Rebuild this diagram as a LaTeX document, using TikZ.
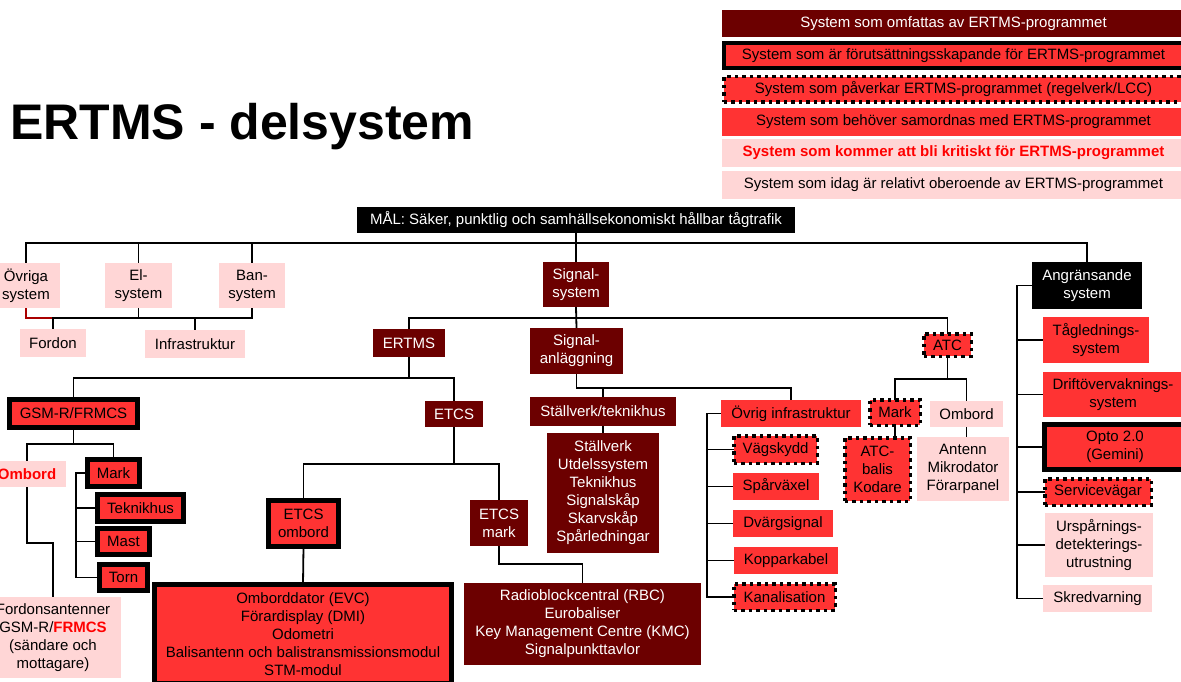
\documentclass[tikz,border=0pt]{standalone}
\usepackage{fontspec}
\setmainfont{Liberation Sans}
\definecolor{dkred}{RGB}{108,0,0}
\definecolor{myred}{RGB}{255,51,51}
\definecolor{mypink}{RGB}{255,214,214}
\definecolor{txtred}{RGB}{255,0,0}
\definecolor{lnred}{RGB}{170,0,0}
\pgfdeclarelayer{bg}
\pgfdeclarelayer{paper}
\pgfsetlayers{paper,bg,main}
\begin{document}
\begin{tikzpicture}[x=1pt,y=-1pt,
 box/.style={inner sep=0pt, outer sep=0pt, align=center, font=\fontsize{15}{18}\selectfont},
 dk/.style={box, fill=dkred, text=white},
 rd/.style={box, fill=myred, text=black},
 pk/.style={box, fill=mypink, text=black},
 bk/.style={box, fill=black, text=white},
 thk/.style={rd, draw=black, line width=5pt},
 dot/.style={rd, draw=black, line width=3.5pt, dash pattern=on 3.5pt off 4pt},
 sz/.style 2 args={minimum width=#1, minimum height=#2},
 conn/.style={draw=black, line width=1.8pt},
]
\begin{pgfonlayer}{paper}
\fill[white] (0,0) rectangle (1181,682);
\end{pgfonlayer}
\useasboundingbox (0,0) rectangle (1181,682);

% legend
\node[dk, sz={463}{27}] (l1) at (953.5,23.5) {System som omfattas av ERTMS-programmet};
\node[thk, line width=4pt, sz={459}{25}] (l2) at (953.5,55.5) {System som är förutsättningsskapande för ERTMS-programmet};
\node[dot, sz={459.5}{25.5}] (l3) at (953.5,89.5) {System som påverkar ERTMS-programmet (regelverk/LCC)};
\node[rd, sz={463}{28}] (l4) at (953.5,122) {System som behöver samordnas med ERTMS-programmet};
\node[pk, sz={463}{28}, text=txtred, font=\fontsize{15}{18}\selectfont\bfseries] (l5) at (953.5,153) {System som kommer att bli kritiskt för ERTMS-programmet};
\node[pk, sz={463}{28}] (l6) at (953.5,185) {System som idag är relativt oberoende av ERTMS-programmet};

% title
\node[anchor=base west, inner sep=0pt, font=\fontsize{50}{60}\selectfont\bfseries] (title) at (10,140) {ERTMS - delsystem};

% top
\node[bk, sz={438}{26}] (mal) at (576,220) {MÅL: Säker, punktlig och samhällsekonomiskt hållbar tågtrafik};

\node[pk, sz={68}{45}] (ovr) at (26,285.5) {Övriga\\system};
\node[pk, sz={67}{45}] (el) at (138.5,285.5) {El-\\system};
\node[pk, sz={66}{45}] (ban) at (252,285.5) {Ban-\\system};
\node[pk, sz={66}{28}] (ford) at (53,343) {Fordon};
\node[pk, sz={100}{28}] (infra) at (195,344) {Infrastruktur};

\node[dk, sz={66}{45}] (sig) at (576,284.5) {Signal-\\system};
\node[dk, sz={72}{28}] (ertms) at (409,343) {ERTMS};
\node[dk, sz={93}{46}] (sanl) at (576.5,351) {Signal-\\anläggning};
\node[dot, sz={47.5}{22.5}] (atc) at (947.5,345) {ATC};
\node[bk, sz={110}{47}] (ang) at (1087,285.5) {Angränsande\\system};

% GSM-R
\node[thk, sz={128}{28}] (gsm) at (73.5,413.5) {GSM-R/FRMCS};
\node[pk, sz={78}{26}, text=txtred, font=\fontsize{15}{18}\selectfont\bfseries] (ombg) at (27,474) {Ombord};
\node[thk, sz={52}{27}] (markg) at (113.5,473) {Mark};
\node[thk, sz={86}{27}] (tek) at (140.5,508) {Teknikhus};
\node[thk, sz={52}{26}] (mast) at (123.5,541.5) {Mast};
\node[thk, sz={48}{26}] (torn) at (123.5,577.5) {Torn};
\node[pk, sz={136}{81}] (fant) at (53,637.5) {Fordonsantenner\\GSM-R/\textcolor{txtred}{\bfseries FRMCS}\\(sändare och\\mottagare)};

% ETCS
\node[dk, sz={58}{26}] (etcs) at (454,414) {ETCS};
\node[thk, sz={70}{46}] (eomb) at (303.5,523.5) {ETCS\\ombord};
\node[thk, sz={297}{99}] (eombc) at (303,634) {Omborddator (EVC)\\Förardisplay (DMI)\\Odometri\\Balisantenn och balistransmissionsmodul\\STM-modul};
\node[dk, sz={58}{46}] (emark) at (499,523) {ETCS\\mark};
\node[dk, sz={237}{82}] (emarkc) at (582.5,624) {Radioblockcentral (RBC)\\Eurobaliser\\Key Management Centre (KMC)\\Signalpunkttavlor};

% Signalanläggning
\node[dk, sz={146}{29}] (stt) at (603,411.5) {Ställverk/teknikhus};
\node[dk, sz={112}{120}] (sttc) at (603,493) {Ställverk\\Utdelssystem\\Teknikhus\\Signalskåp\\Skarvskåp\\Spårledningar};
\node[rd, sz={140}{27}] (ovi) at (791,413.5) {Övrig infrastruktur};
\node[dot, sz={83.5}{27.5}] (vag) at (775.5,449.5) {Vägskydd};
\node[rd, sz={86}{27}] (spa) at (776,486.5) {Spårväxel};
\node[rd, sz={100}{27}] (dva) at (783,523.5) {Dvärgsignal};
\node[rd, sz={104}{27}] (kop) at (786,560.5) {Kopparkabel};
\node[dot, sz={101.5}{26.5}] (kan) at (784.5,597) {Kanalisation};

% ATC
\node[dot, sz={50.5}{25.5}] (marka) at (895,412.5) {Mark};
\node[pk, sz={73}{26}] (omba) at (966.5,414) {Ombord};
\node[dot, sz={65.5}{63.5}] (atcb) at (877.5,469.5) {ATC-\\balis\\Kodare};
\node[pk, sz={92}{64}] (ant) at (963,469) {Antenn\\Mikrodator\\Förarpanel};

% right column
\node[rd, sz={106}{46}] (tag) at (1096,340) {Tågledning{}s-\\system};
\node[rd, sz={140}{45}] (drift) at (1113,394.5) {Driftövervaknings-\\system};
\node[thk, sz={141}{45}] (opto) at (1115,447) {Opto 2.0\\(Gemini)};
\node[dot, sz={106.5}{26.5}] (serv) at (1098,492) {Servicevägar};
\node[pk, sz={108}{64}] (ursp) at (1099,545) {Urspårnings-\\detekterings-\\utrustning};
\node[pk, sz={109}{27}] (skr) at (1097.5,598.5) {Skredvarning};

\begin{pgfonlayer}{bg}
\coordinate (b0) at (0,243);
\draw[conn] (ovr.north) -- (ovr.north |- b0) -| (ang.north);
\draw[conn] (el.north) -- (el.north |- b0);
\draw[conn] (ban.north) -- (ban.north |- b0);
\draw[conn] (mal.south) -- (sig.north);

\coordinate (b1) at (0,318);
\draw[conn, draw=lnred] (ovr.south) |- (ford.north |- b1);
\draw[conn] (ford.north) -- (ford.north |- b1) -- (ban.south |- b1) -- (ban.south);
\draw[conn] (el.south) -- (el.south |- b1);
\draw[conn] (infra.north) -- (infra.north |- b1);

\draw[conn] (sig.south) -- (sanl.north);
\draw[conn] (ertms.north) -- (ertms.north |- b1) -| (atc.north);

\coordinate (b2) at (0,378);
\draw[conn] (ertms.south) -- (ertms.south |- b2);
\draw[conn] (gsm.north) |- (etcs.north |- b2) -- (etcs.north);

\coordinate (b3) at (0,444);
\draw[conn] (gsm.south) -- (gsm.south |- b3);
\draw[conn] (ombg.north) |- (markg.north |- b3) -- (markg.north);
\coordinate (brg) at (76,0);
\draw[conn] (markg.west) -| (brg |- torn.west) -- (torn.west);
\draw[conn] (tek.west) -- (tek.west -| brg);
\draw[conn] (mast.west) -- (mast.west -| brg);
\coordinate (b4) at (0,543);
\draw[conn] (ombg.south) |- (fant.north |- b4) -- (fant.north);

\coordinate (b5) at (0,464);
\draw[conn] (etcs.south) -- (etcs.south |- b5);
\draw[conn] (eomb.north) |- (emark.north |- b5) -- (emark.north);
\draw[conn] (eomb.south) -- (eombc.north);
\coordinate (b6) at (0,564);
\draw[conn] (emark.south) |- (emarkc.north |- b6) -- (emarkc.north);

\coordinate (b7) at (0,388);
\draw[conn] (sanl.south) |- (ovi.north |- b7) -- (ovi.north);
\draw[conn] (stt.north) -- (stt.north |- b7);
\draw[conn] (stt.south) -- (sttc.north);

\coordinate (bro) at (707,0);
\draw[conn] (ovi.west) -| (bro |- kan.west) -- (kan.west);
\foreach \n in {vag,spa,dva,kop} {\draw[conn] (\n.west) -- (\n.west -| bro);}

\coordinate (b8) at (0,379);
\draw[conn] (atc.south) -- (atc.south |- b8);
\draw[conn] (marka.north) |- (omba.north |- b8) -- (omba.north);
\draw[conn] (marka.south) -- (marka.south |- atcb.north);
\draw[conn] (omba.south) -- (omba.south |- ant.north);

\coordinate (brr) at (1017,0);
\draw[conn] (ang.west) -| (brr |- skr.west) -- (skr.west);
\foreach \n in {tag,drift,opto,serv,ursp} {\draw[conn] (\n.west) -- (\n.west -| brr);}
\end{pgfonlayer}
\end{tikzpicture}
\end{document}
